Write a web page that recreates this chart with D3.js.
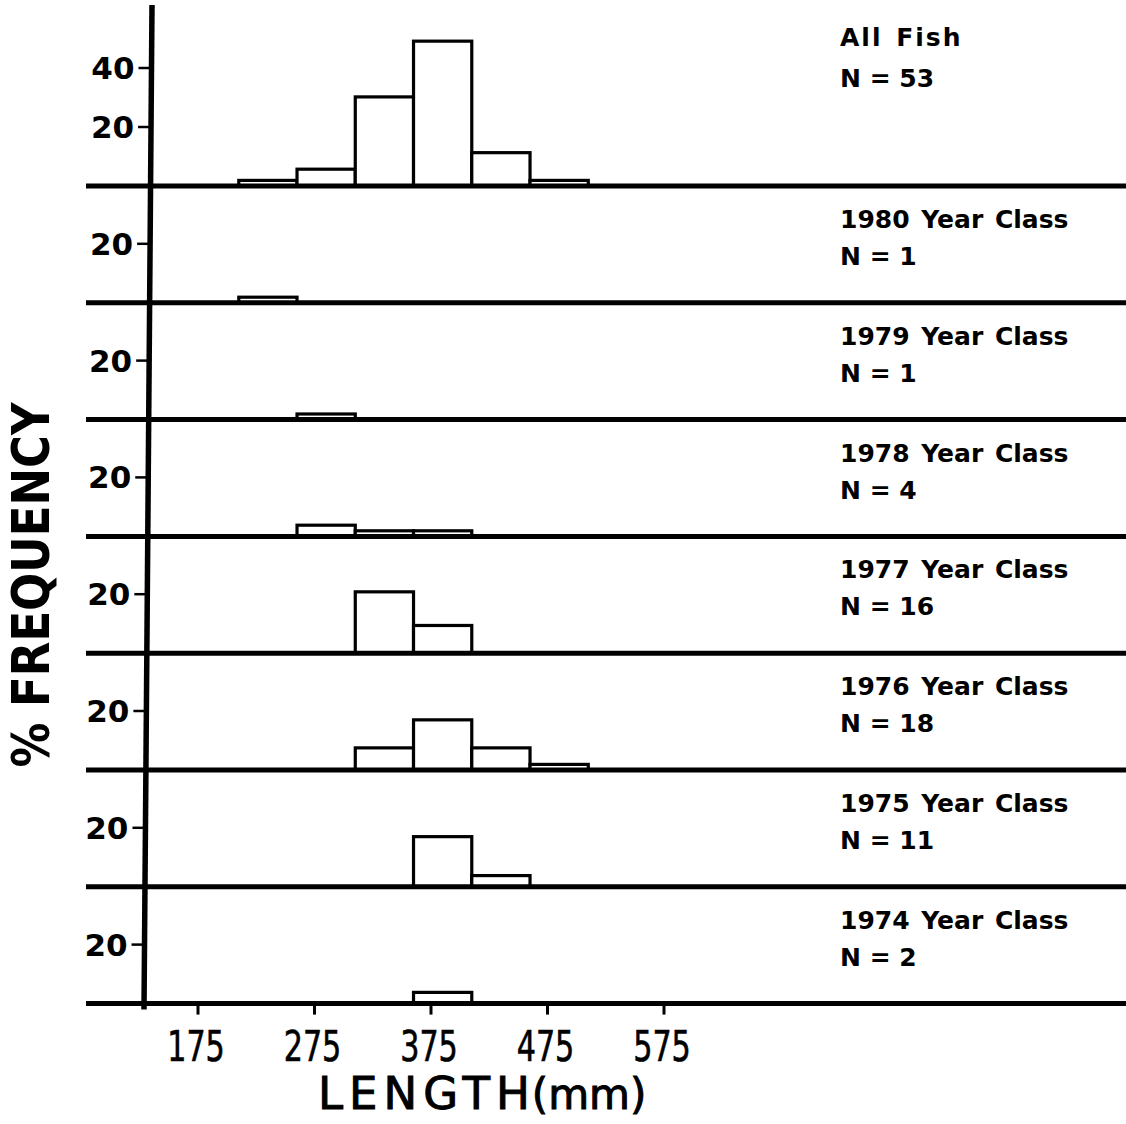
<!DOCTYPE html>
<html>
<head>
<meta charset="utf-8">
<script src="https://cdn.jsdelivr.net/npm/d3@7"></script>
<style>
  html, body { margin: 0; padding: 0; background: #fff; }
  svg { display: block; }
</style>
</head>
<body>
<svg id="chart"></svg>
<script>
// length classes (mm), lower edge of each 50 mm bin
const binStarts = [210, 260, 310, 360, 410, 460];
const binWidth = 50;
const xTicks = [175, 275, 375, 475, 575];

const classNames = ["All Fish", "1980 Year Class", "1979 Year Class", "1978 Year Class",
  "1977 Year Class", "1976 Year Class", "1975 Year Class", "1974 Year Class"];
const classCounts = [53, 1, 1, 4, 16, 18, 11, 2];

// % of all fish in each bin
const allFish = [1.9, 5.7, 30.2, 49.1, 11.3, 1.9];
const yc1980 = [1.9, 0, 0, 0, 0, 0];
const yc1979 = [0, 1.9, 0, 0, 0, 0];
const yc1978 = [0, 3.8, 1.9, 1.9, 0, 0];
const yc1977 = [0, 0, 20.8, 9.4, 0, 0];
const yc1976 = [0, 0, 7.5, 17.0, 7.5, 1.9];
const yc1975 = [0, 0, 0, 17.0, 3.8, 0];
const yc1974 = [0, 0, 0, 3.8, 0, 0];
const panelValues = [allFish, yc1980, yc1979, yc1978, yc1977, yc1976, yc1975, yc1974];
const panelTicks = [[20, 40], [20], [20], [20], [20], [20], [20], [20]];

const width = 1126, height = 1124;
const firstBase = 186, panelStep = 116.8;
const pxPerPct = 2.95;

const svg = d3.select("#chart").attr("width", width).attr("height", height);

const x = d3.scaleLinear().domain([175, 575]).range([198, 664]);
const baseOf = i => firstBase + i * panelStep;
const lastBase = baseOf(panelValues.length - 1);

// the vertical axis leans slightly to the left going down
const axisX = d3.scaleLinear().domain([5, lastBase + 6]).range([152, 144]);

panelValues.forEach((vals, i) => {
  const base = baseOf(i);
  const y = d3.scaleLinear().domain([0, 20]).range([base, base - 20 * pxPerPct]);
  const g = svg.append("g");

  const bins = vals.map((v, j) => ({ start: binStarts[j], v })).filter(d => d.v > 0);
  g.selectAll("rect")
    .data(bins)
    .enter()
    .append("rect")
    .attr("x", d => x(d.start))
    .attr("width", d => x(d.start + binWidth) - x(d.start))
    .attr("y", d => y(d.v))
    .attr("height", d => base - y(d.v))
    .attr("fill", "#fff")
    .attr("stroke", "#000")
    .attr("stroke-width", 3.2);

  // baseline of the panel
  g.append("line")
    .attr("x1", 86).attr("x2", width)
    .attr("y1", base).attr("y2", base)
    .attr("stroke", "#000").attr("stroke-width", 5);

  // % ticks
  panelTicks[i].forEach(t => {
    const ty = y(t);
    const ax = axisX(ty);
    g.append("line")
      .attr("x1", ax - 13).attr("x2", ax)
      .attr("y1", ty).attr("y2", ty)
      .attr("stroke", "#000").attr("stroke-width", 2.5);
    g.append("text")
      .attr("x", ax - 17).attr("y", ty + 11)
      .attr("text-anchor", "end")
      .attr("font-family", "DejaVu Sans")
      .attr("font-weight", "bold")
      .attr("font-size", 31)
      .text(t);
  });

  // class name and sample size
  const prev = i === 0 ? null : baseOf(i - 1);
  const l1 = i === 0 ? 46 : prev + 42;
  const l2 = i === 0 ? 87 : prev + 79;
  g.append("text")
    .attr("x", 840).attr("y", l1)
    .attr("font-family", "DejaVu Sans")
    .attr("font-weight", "bold")
    .attr("font-size", 25)
    .attr("letter-spacing", i === 0 ? 2 : 0)
    .attr("word-spacing", 3)
    .text(classNames[i]);
  g.append("text")
    .attr("x", 840).attr("y", l2)
    .attr("font-family", "DejaVu Sans")
    .attr("font-weight", "bold")
    .attr("font-size", 25)
    .text("N = " + classCounts[i]);
});

// vertical % axis
svg.append("line")
  .attr("x1", axisX(5)).attr("y1", 5)
  .attr("x2", axisX(lastBase + 6)).attr("y2", lastBase + 6)
  .attr("stroke", "#000").attr("stroke-width", 5.5);

// length axis ticks and labels
const xg = svg.append("g");
xg.selectAll("line")
  .data(xTicks)
  .enter()
  .append("line")
  .attr("x1", d => x(d)).attr("x2", d => x(d))
  .attr("y1", lastBase).attr("y2", lastBase + 11)
  .attr("stroke", "#000").attr("stroke-width", 3);
// tall, narrow lettering: squeeze the glyphs horizontally
xg.selectAll("text")
  .data(xTicks)
  .enter()
  .append("text")
  .attr("transform", d => `translate(${x(d) - 2},1061) scale(0.78,1)`)
  .attr("text-anchor", "middle")
  .attr("font-family", "'DejaVu Sans Condensed', 'DejaVu Sans'")
  .attr("font-stretch", "condensed")
  .attr("font-size", 43)
  .attr("stroke", "#000").attr("stroke-width", 0.6)
  .text(d => d);

// axis titles
const xt = svg.append("text")
  .attr("x", 318).attr("y", 1109)
  .attr("font-family", "DejaVu Sans")
  .attr("font-size", 45)
  .attr("stroke", "#000").attr("stroke-width", 1);
xt.append("tspan").attr("letter-spacing", 6).text("LENGTH");
xt.append("tspan").attr("dx", -4).attr("font-size", 42).text("(mm)");

svg.append("text")
  .attr("transform", "translate(49,585) rotate(-90)")
  .attr("text-anchor", "middle")
  .attr("font-family", "'DejaVu Sans Condensed', 'DejaVu Sans'")
  .attr("font-stretch", "condensed")
  .attr("font-weight", "bold")
  .attr("font-size", 52)
  .attr("textLength", 365)
  .attr("lengthAdjust", "spacingAndGlyphs")
  .text("% FREQUENCY");
</script>
</body>
</html>
